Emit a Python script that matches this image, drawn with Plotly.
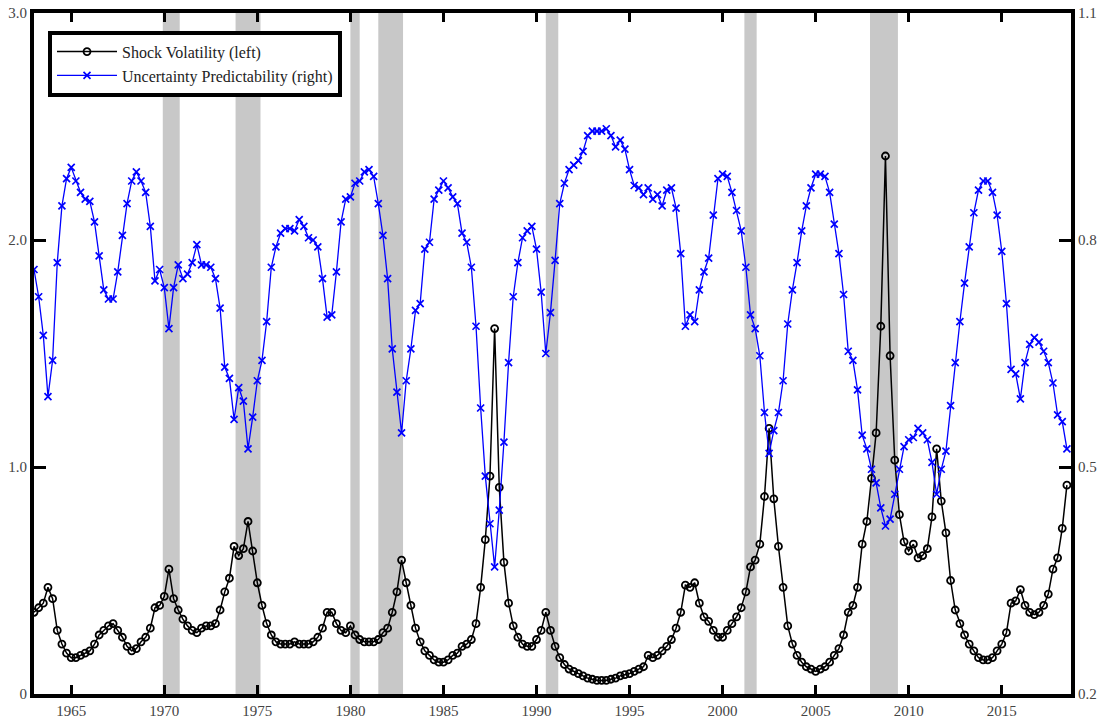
import plotly.graph_objects as go

# Quarterly observations, first quarter 1963Q1
start_year = 1963
n_quarters = 223

shock_volatility = [
    0.36, 0.38, 0.40, 0.47, 0.42, 0.28, 0.22, 0.18,
    0.16, 0.16, 0.17, 0.18, 0.19, 0.22, 0.26, 0.28,
    0.30, 0.31, 0.28, 0.25, 0.21, 0.19, 0.20, 0.23,
    0.25, 0.29, 0.38, 0.39, 0.43, 0.55, 0.42, 0.37,
    0.33, 0.30, 0.28, 0.27, 0.29, 0.30, 0.30, 0.31,
    0.37, 0.45, 0.51, 0.65, 0.61, 0.64, 0.76, 0.63,
    0.49, 0.39, 0.31, 0.26, 0.23, 0.22, 0.22, 0.22,
    0.23, 0.22, 0.22, 0.22, 0.23, 0.25, 0.29, 0.36,
    0.36, 0.31, 0.28, 0.27, 0.30, 0.26, 0.24, 0.23,
    0.23, 0.23, 0.24, 0.27, 0.29, 0.36, 0.45, 0.59,
    0.49, 0.39, 0.29, 0.23, 0.19, 0.17, 0.15, 0.14,
    0.14, 0.15, 0.17, 0.18, 0.21, 0.22, 0.24, 0.31,
    0.47, 0.68, 0.96, 1.61, 0.91, 0.58, 0.40, 0.30,
    0.25, 0.22, 0.21, 0.21, 0.24, 0.28, 0.36, 0.28,
    0.21, 0.16, 0.13, 0.11, 0.10, 0.09, 0.08, 0.07,
    0.065, 0.06, 0.06, 0.06, 0.065, 0.07, 0.08, 0.085,
    0.09, 0.10, 0.11, 0.12, 0.17, 0.16, 0.17, 0.19,
    0.21, 0.24, 0.29, 0.36, 0.48, 0.47, 0.49, 0.40,
    0.34, 0.32, 0.28, 0.25, 0.25, 0.28, 0.31, 0.34,
    0.38, 0.45, 0.56, 0.59, 0.66, 0.87, 1.17, 0.86,
    0.65, 0.47, 0.30, 0.22, 0.17, 0.14, 0.12, 0.11,
    0.10, 0.11, 0.12, 0.14, 0.17, 0.20, 0.26, 0.36,
    0.39, 0.47, 0.66, 0.76, 0.95, 1.15, 1.62, 2.37,
    1.49, 1.03, 0.79, 0.67, 0.63, 0.66, 0.60, 0.61,
    0.64, 0.78, 1.08, 0.85, 0.71, 0.50, 0.37, 0.31,
    0.26, 0.22, 0.19, 0.16, 0.15, 0.15, 0.16, 0.19,
    0.22, 0.27, 0.40, 0.41, 0.46, 0.39, 0.36, 0.35,
    0.36, 0.39, 0.44, 0.55, 0.60, 0.73, 0.92,
]

uncertainty_predictability = [
    0.761, 0.725, 0.674, 0.593, 0.641, 0.770, 0.845, 0.881,
    0.896, 0.878, 0.863, 0.854, 0.851, 0.824, 0.779, 0.734,
    0.722, 0.722, 0.758, 0.806, 0.848, 0.878, 0.890, 0.878,
    0.863, 0.818, 0.746, 0.761, 0.737, 0.683, 0.737, 0.767,
    0.749, 0.755, 0.770, 0.794, 0.767, 0.767, 0.764, 0.749,
    0.710, 0.632, 0.617, 0.563, 0.605, 0.587, 0.524, 0.566,
    0.614, 0.641, 0.692, 0.764, 0.791, 0.809, 0.815, 0.815,
    0.812, 0.827, 0.818, 0.803, 0.800, 0.791, 0.749, 0.698,
    0.701, 0.758, 0.824, 0.854, 0.857, 0.875, 0.878, 0.890,
    0.893, 0.884, 0.848, 0.806, 0.749, 0.656, 0.599, 0.545,
    0.614, 0.656, 0.707, 0.716, 0.788, 0.797, 0.854, 0.866,
    0.878, 0.869, 0.857, 0.848, 0.809, 0.797, 0.764, 0.686,
    0.578, 0.488, 0.425, 0.368, 0.443, 0.533, 0.638, 0.725,
    0.770, 0.803, 0.812, 0.818, 0.788, 0.731, 0.650, 0.704,
    0.773, 0.848, 0.875, 0.893, 0.899, 0.905, 0.917, 0.938,
    0.944, 0.944, 0.944, 0.947, 0.938, 0.923, 0.932, 0.920,
    0.893, 0.872, 0.869, 0.860, 0.869, 0.854, 0.860, 0.845,
    0.866, 0.869, 0.842, 0.782, 0.686, 0.701, 0.692, 0.734,
    0.758, 0.776, 0.833, 0.881, 0.887, 0.884, 0.863, 0.839,
    0.812, 0.764, 0.701, 0.683, 0.647, 0.572, 0.518, 0.548,
    0.572, 0.614, 0.689, 0.734, 0.770, 0.812, 0.845, 0.869,
    0.887, 0.887, 0.884, 0.863, 0.821, 0.782, 0.728, 0.653,
    0.641, 0.602, 0.542, 0.524, 0.497, 0.479, 0.446, 0.422,
    0.431, 0.464, 0.497, 0.527, 0.536, 0.539, 0.551, 0.545,
    0.536, 0.506, 0.464, 0.497, 0.521, 0.581, 0.638, 0.692,
    0.743, 0.791, 0.836, 0.866, 0.878, 0.878, 0.863, 0.833,
    0.785, 0.716, 0.629, 0.623, 0.590, 0.638, 0.662, 0.671,
    0.665, 0.653, 0.638, 0.611, 0.569, 0.560, 0.524,
]

# NBER recessions (fractional years)
recession_starts = [1969.92, 1973.83, 1980.0, 1981.5, 1990.5, 2001.17, 2007.92]
recession_ends = [1970.83, 1975.17, 1980.5, 1982.83, 1991.17, 2001.83, 2009.42]

x_tick_years = [1965, 1970, 1975, 1980, 1985, 1990, 1995, 2000, 2005, 2010, 2015]
left_ticks = [0, 1.0, 2.0, 3.0]
left_tick_text = ["0", "1.0", "2.0", "3.0"]
right_ticks = [0.2, 0.5, 0.8, 1.1]
right_tick_text = ["0.2", "0.5", "0.8", "1.1"]

dates = [start_year + q / 4 for q in range(n_quarters)]

FONT = "Liberation Serif"

fig = go.Figure()

fig.add_trace(go.Scatter(
    x=dates, y=shock_volatility, name="Shock Volatility (left)",
    mode="lines+markers", yaxis="y",
    line=dict(color="black", width=1.5),
    marker=dict(symbol="circle-open", size=7, color="black",
                line=dict(color="black", width=1.8)),
))
fig.add_trace(go.Scatter(
    x=dates, y=uncertainty_predictability, name="Uncertainty Predictability (right)",
    mode="lines+markers", yaxis="y2",
    line=dict(color="#0000ff", width=1.3),
    marker=dict(symbol="x-thin", size=7, color="#0000ff",
                line=dict(color="#0000ff", width=1.7)),
))

for s, e in zip(recession_starts, recession_ends):
    fig.add_shape(type="rect", xref="x", yref="paper", x0=s, x1=e, y0=0, y1=1,
                  fillcolor="rgb(200,200,200)", line=dict(width=0), layer="below")

axis_common = dict(
    ticks="inside", tickwidth=3, tickcolor="black",
    showline=True, linewidth=4, linecolor="black",
    showgrid=False, zeroline=False, automargin=False,
    tickfont=dict(family=FONT, size=15, color="#444444"),
)

fig.update_layout(
    width=1100, height=718,
    margin=dict(l=34, r=29, t=13, b=24, autoexpand=False),
    paper_bgcolor="white", plot_bgcolor="white",
    font=dict(family=FONT, size=14, color="#333333"),
    showlegend=True,
    legend=dict(
        x=0.0135, y=0.974, xanchor="left", yanchor="top",
        bgcolor="white", bordercolor="black", borderwidth=4,
        font=dict(family=FONT, size=16, color="#222222"),
        itemwidth=60, tracegroupgap=0,
    ),
    xaxis=dict(
        range=[1963.0, 2018.72], tickvals=x_tick_years,
        ticklen=9, mirror="ticks", **axis_common,
    ),
    yaxis=dict(
        range=[0, 3.0], tickvals=left_ticks, ticktext=left_tick_text,
        ticklen=12, **axis_common,
    ),
    yaxis2=dict(
        range=[0.2, 1.1], tickvals=right_ticks, ticktext=right_tick_text,
        overlaying="y", side="right", ticklen=12, **axis_common,
    ),
)

fig.write_html(
    "out.html",
    config={"displayModeBar": False},
    post_script="document.body.style.margin='0';document.body.style.overflow='hidden';",
)
